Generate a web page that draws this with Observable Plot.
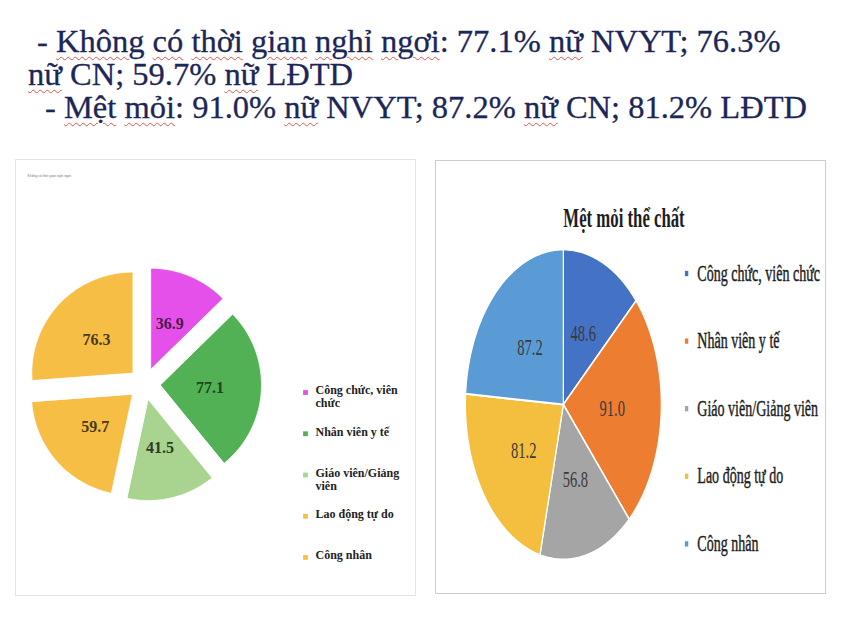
<!DOCTYPE html>
<html><head><meta charset="utf-8">
<script src="https://cdn.jsdelivr.net/npm/d3@7"></script>
<script src="https://cdn.jsdelivr.net/npm/@observablehq/plot@0.6"></script>
<style>
body{margin:0;background:#fff;width:842px;height:631px;position:relative;overflow:hidden;}
.hl{position:absolute;font-family:"Liberation Serif","DejaVu Serif",serif;font-size:32.5px;line-height:32.5px;color:#1c2757;white-space:pre;-webkit-text-stroke:0.3px #1c2757;}
.u{text-decoration:underline wavy #d9534f;text-decoration-thickness:1px;text-underline-offset:4px;}
.panel{position:absolute;box-sizing:border-box;overflow:hidden;background:#fff;}
</style></head><body>
<div class="hl" style="left:37px;top:25px">- <span class="u">Không</span> <span class="u">có</span> <span class="u">thời</span> <span class="u">gian</span> <span class="u">nghỉ</span> <span class="u">ngơi</span>: 77.1% <span class="u">nữ</span> NVYT; 76.3%</div>
<div class="hl" style="left:28px;top:58px"><span class="u">nữ</span> CN; 59.7% <span class="u">nữ</span> LĐTD</div>
<div class="hl" style="left:45px;top:91px">- <span class="u">Mệt</span> <span class="u">mỏi</span>: 91.0% <span class="u">nữ</span> NVYT; 87.2% <span class="u">nữ</span> CN; 81.2% LĐTD</div>
<div id="left" class="panel" style="left:15px;top:159px;width:401px;height:437px;border:1px solid #e4e4e4;"></div>
<div id="right" class="panel" style="left:435px;top:160px;width:391px;height:434px;border:1px solid #cdcdcd;"></div>
<script>
// ---- data ----
const categories = ["Công chức, viên chức", "Nhân viên y tế", "Giáo viên/Giảng viên", "Lao động tự do", "Công nhân"];
const leftLegendLabels = ["Công chức, viên\nchức", "Nhân viên y tế", "Giáo viên/Giảng\nviên", "Lao động tự do", "Công nhân"];
const leftSmallTitle = "Không có thời gian nghỉ ngơi";
const leftValues = [36.9, 77.1, 41.5, 59.7, 76.3];
const leftColors = ["#e650ea", "#52b055", "#a9d490", "#f6be45", "#f6be45"];
const leftLabelColors = ["#4a1a4a", "#1e4620", "#2b3b24", "#4a3b17", "#4a3b17"];
const rightTitle = "Mệt mỏi thể chất";
const rightValues = [48.6, 91.0, 56.8, 81.2, 87.2];
const rightColors = ["#4472c4", "#ed7d31", "#a5a5a5", "#f4bf3e", "#5b9bd5"];

// ---- helpers ----
function slices(values, colors, cx, cy, r, explode, prefix) {
  const arcs = d3.pie().sort(null).value(d => d)(values);
  const pts = [];
  arcs.forEach((a, i) => {
    const mid = (a.startAngle + a.endAngle) / 2;
    const ox = cx + explode * Math.sin(mid), oy = cy - explode * Math.cos(mid);
    pts.push({key: prefix + i, x: ox, y: oy, fill: colors[i]});
    const n = Math.max(2, Math.ceil((a.endAngle - a.startAngle) / (Math.PI / 180)));
    for (let k = 0; k <= n; k++) {
      const t = a.startAngle + (a.endAngle - a.startAngle) * k / n;
      pts.push({key: prefix + i, x: ox + r * Math.sin(t), y: oy - r * Math.cos(t), fill: colors[i]});
    }
  });
  return {arcs, pts};
}
function labels(arcs, values, cx, cy, rad, colors) {
  return arcs.map((a, i) => {
    const mid = (a.startAngle + a.endAngle) / 2;
    return {x: cx + rad * Math.sin(mid), y: cy - rad * Math.cos(mid), text: values[i].toFixed(1), fill: colors[i]};
  });
}

// ---- left chart ----
{
  const W = 399, H = 435, cx = 128, cy = 223.5, r = 101, ex = 16;
  const {arcs, pts} = slices(leftValues, leftColors, cx, cy, r, ex, "L");
  const lab = labels(arcs, leftValues, cx, cy, ex + 0.49 * r, leftLabelColors);
  const leg = leftLegendLabels.map((t, i) => ({x: 289, tx: 299, y: 232 + 41.25 * i, text: t, fill: leftColors[i]}));
  const svg = Plot.plot({
    width: W, height: H, margin: 0,
    x: {domain: [0, W], range: [0, W], axis: null},
    y: {domain: [0, H], range: [0, H], axis: null},
    color: {type: "identity"},
    marks: [
      Plot.line(pts, {x: "x", y: "y", z: "key", fill: "fill", stroke: "#fff", strokeWidth: 0.8, curve: "linear-closed"}),
      Plot.text(lab, {x: "x", y: "y", text: "text", fill: "fill", fontSize: 16, fontWeight: "bold", fontFamily: "Liberation Serif"}),
      Plot.dot(leg, {x: "x", y: "y", fill: "fill", symbol: "square", r: 2.7}),
      Plot.text(leg, {x: "tx", y: d => d.y - 7, text: "text", textAnchor: "start", lineAnchor: "top", lineHeight: 1.05, fill: "#222", fontSize: 12, fontWeight: "bold", fontFamily: "Liberation Serif"}),
      Plot.text([leftSmallTitle], {x: 11, y: 15, text: d => d, textAnchor: "start", fontSize: 3.4, fill: "#777", fontFamily: "Liberation Sans"})
    ]
  });
  svg.style.background = "transparent";
  document.getElementById("left").appendChild(svg);
}

// ---- right chart (drawn wide, then squeezed horizontally like the source) ----
{
  const s = 0.632, W = 616, H = 432, cx = 201, cy = 243, r = 155;
  const {arcs, pts} = slices(rightValues, rightColors, cx, cy, r, 0, "R");
  const lab = labels(arcs, rightValues, cx, cy, 0.5 * r, rightValues.map(() => "#3a3a3a"));
  const leg = categories.map((t, i) => ({x: 396, tx: 413, y: 112 + 67.6 * i, text: t, fill: rightColors[i]}));
  const svg = Plot.plot({
    width: W, height: H, margin: 0,
    x: {domain: [0, W], range: [0, W], axis: null},
    y: {domain: [0, H], range: [0, H], axis: null},
    color: {type: "identity"},
    marks: [
      Plot.line(pts, {x: "x", y: "y", z: "key", fill: "fill", stroke: "#fff", strokeWidth: 2, curve: "linear-closed"}),
      Plot.text(lab, {x: "x", y: "y", text: "text", fill: "fill", fontSize: 23, fontFamily: "Liberation Serif"}),
      Plot.text([rightTitle], {x: 297, y: 57, text: d => d, fill: "#1e1e1e", fontSize: 26.5, fontWeight: "bold", fontFamily: "Liberation Serif"}),
      Plot.dot(leg, {x: "x", y: "y", fill: "fill", symbol: "square", r: 3}),
      Plot.text(leg, {x: "tx", y: "y", text: "text", textAnchor: "start", fill: "#1e1e1e", stroke: "#1e1e1e", strokeWidth: 0.45, fontSize: 22.2, fontFamily: "Liberation Serif"})
    ]
  });
  svg.style.background = "transparent";
  svg.style.maxWidth = "none";
  svg.style.transform = `scaleX(${s})`;
  svg.style.transformOrigin = "0 0";
  document.getElementById("right").appendChild(svg);
}
</script>
</body></html>
